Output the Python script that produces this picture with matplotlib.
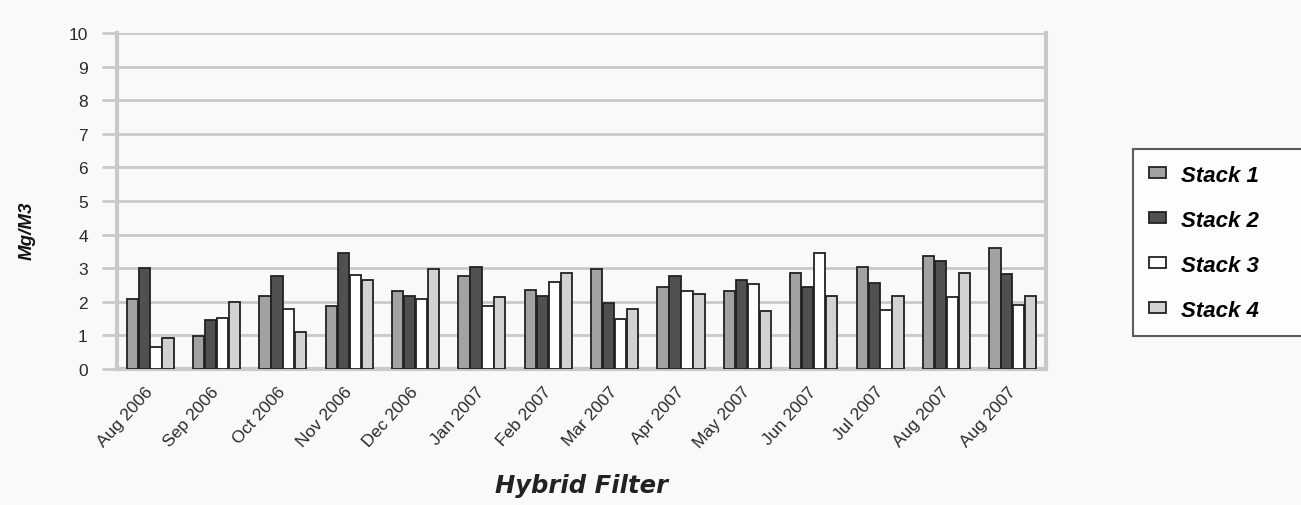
import numpy as np
import matplotlib.pyplot as plt

# data
months = ["Aug 2006", "Sep 2006", "Oct 2006", "Nov 2006", "Dec 2006", "Jan 2007", "Feb 2007",
          "Mar 2007", "Apr 2007", "May 2007", "Jun 2007", "Jul 2007", "Aug 2007", "Aug 2007"]
stack1 = [2.08, 0.98, 2.16, 1.88, 2.33, 2.78, 2.35, 2.97, 2.45, 2.31, 2.86, 3.04, 3.37, 3.60]
stack2 = [3.00, 1.45, 2.77, 3.45, 2.18, 3.04, 2.17, 1.95, 2.78, 2.64, 2.43, 2.55, 3.20, 2.82]
stack3 = [0.64, 1.52, 1.78, 2.79, 2.08, 1.88, 2.58, 1.50, 2.33, 2.54, 3.45, 1.75, 2.13, 1.89]
stack4 = [0.92, 2.00, 1.09, 2.64, 2.99, 2.15, 2.86, 1.78, 2.23, 1.73, 2.18, 2.16, 2.87, 2.17]
series = [stack1, stack2, stack3, stack4]
names = ["Stack 1", "Stack 2", "Stack 3", "Stack 4"]
colors = ["#a2a2a2", "#505050", "#ffffff", "#d2d2d2"]

bg = "#f9f9f9"
grid = "#c9c9c9"
font = "Liberation Sans"

fig = plt.figure(figsize=(13.01, 5.06), dpi=100, facecolor=bg)
ax = fig.add_axes([0.0899, 0.2688, 0.7141, 0.664], facecolor=bg)

x = np.arange(len(months))
w = 0.18
for i, (vals, name, c) in enumerate(zip(series, names, colors)):
    ax.bar(x + (i - 1.5) * w, vals, width=w * 0.94, color=c, edgecolor="#222222",
           linewidth=1.3, label=name, zorder=3)

ax.set_xlim(-0.5, len(months) - 0.5)
ax.set_ylim(0, 10)
ax.set_yticks(range(0, 11))
ax.yaxis.grid(True, color=grid, linewidth=2, zorder=0)
ax.set_axisbelow(True)

for s in ["left", "right", "bottom"]:
    ax.spines[s].set_color(grid)
    ax.spines[s].set_linewidth(3)
ax.spines["top"].set_visible(False)

ax.set_xticks(x)
ax.set_xticklabels(months, rotation=48, ha="right", va="center", rotation_mode="anchor",
                   fontfamily=font, fontsize=12.5, color="#2a2a2a")
ax.tick_params(axis="x", length=0, pad=14)
ax.tick_params(axis="y", length=11, width=2, color=grid, pad=10, labelsize=12.5,
               labelcolor="#2a2a2a")
for t in ax.get_yticklabels():
    t.set_fontfamily(font)

ax.set_ylabel("Mg/M3", fontfamily=font, fontsize=13.5, fontweight="bold",
              fontstyle="italic", color="#111111")
ax.yaxis.set_label_coords(-0.087, 0.414)
ax.set_xlabel("Hybrid Filter", fontfamily="DejaVu Sans", fontsize=17.5,
              fontweight="bold", fontstyle="italic", color="#222222", va="center")
ax.xaxis.set_label_coords(0.5, -0.345)

leg = fig.legend(loc="upper left", bbox_to_anchor=(1133 / 1301, 0, 0.2, 1 - 150 / 506),
                 mode="expand", frameon=True, fancybox=False, edgecolor="#333333",
                 facecolor="#ffffff", borderaxespad=0, handlelength=0.77, handleheight=0.42,
                 handletextpad=0.7, labelspacing=1.08, borderpad=0.7,
                 prop={"family": font, "size": 16, "weight": "bold", "style": "italic"})
leg.get_frame().set_linewidth(1.5)

fig.savefig("out.png", dpi=100, facecolor=bg)
